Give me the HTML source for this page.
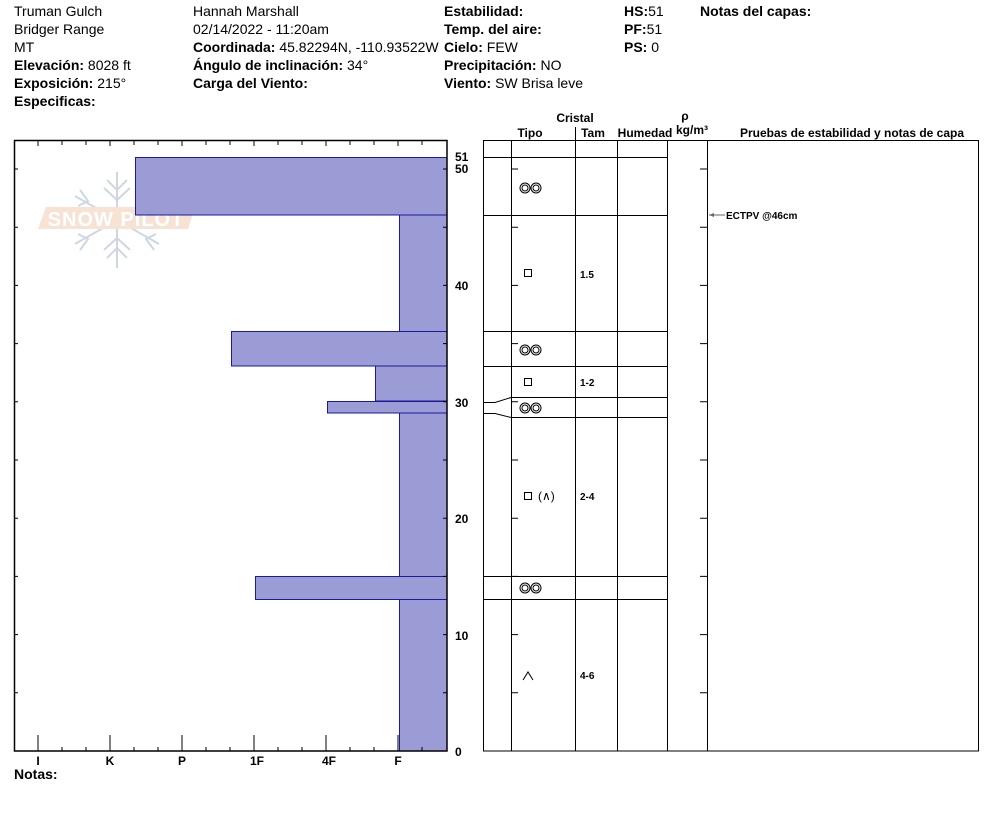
<!DOCTYPE html>
<html><head><meta charset="utf-8"><style>
body{margin:0;background:#fff;}
svg{display:block;font-family:"Liberation Sans",Arial,sans-serif;}
.b{font-weight:bold;}
</style></head><body>
<svg width="994" height="840" viewBox="0 0 994 840" xmlns="http://www.w3.org/2000/svg">
<g font-size="14" fill="#000">
<text x="14" y="16">Truman Gulch</text>
<text x="14" y="34">Bridger Range</text>
<text x="14" y="52">MT</text>
<text x="14" y="70"><tspan class="b">Elevación:</tspan> 8028 ft</text>
<text x="14" y="88"><tspan class="b">Exposición:</tspan> 215°</text>
<text x="14" y="106" class="b">Especificas:</text>
<text x="193" y="16">Hannah Marshall</text>
<text x="193" y="34">02/14/2022 - 11:20am</text>
<text x="193" y="52"><tspan class="b">Coordinada:</tspan> 45.82294N, -110.93522W</text>
<text x="193" y="70"><tspan class="b">Ángulo de inclinación:</tspan> 34°</text>
<text x="193" y="88" class="b">Carga del Viento:</text>
<text x="444" y="16" class="b">Estabilidad:</text>
<text x="444" y="34" class="b">Temp. del aire:</text>
<text x="444" y="52"><tspan class="b">Cielo:</tspan> FEW</text>
<text x="444" y="70"><tspan class="b">Precipitación:</tspan> NO</text>
<text x="444" y="88"><tspan class="b">Viento:</tspan>  SW Brisa leve</text>
<text x="624" y="16"><tspan class="b">HS:</tspan>51</text>
<text x="624" y="34"><tspan class="b">PF:</tspan>51</text>
<text x="624" y="52"><tspan class="b">PS:</tspan> 0</text>
<text x="700" y="16" class="b">Notas del capas:</text>
<text x="14" y="779" class="b">Notas:</text>
</g>
<!-- logo -->
<g opacity="0.5">
<g stroke="#9fb0c4" stroke-width="2" fill="none">
<line x1="117" y1="172" x2="117" y2="268"/>
<line x1="75" y1="196" x2="159" y2="244"/>
<line x1="75" y1="244" x2="159" y2="196"/>
<path d="M107 180 L117 190 L127 180 M107 258 L117 248 L127 258 M104 188 L117 200 L130 188 M104 250 L117 238 L130 250"/>
<path d="M80 190 L88 201 L78 206 M154 190 L146 201 L156 206 M80 250 L88 239 L78 234 M154 250 L146 239 L156 234"/>
</g>
<polygon points="46,207 195,207 188,229 38,229" fill="#f0c8a8"/>
<text x="116" y="226" font-size="20" fill="#fff" text-anchor="middle" font-weight="bold" letter-spacing="1">SNOW PILOT</text>
</g>
<!-- bars -->
<g fill="#9b9bd6" stroke="#1a1a9a" stroke-width="1">
<rect x="399.5" y="215" width="47.5" height="536"/>
<rect x="135.5" y="157.5" width="311.5" height="57.5"/>
<rect x="231.5" y="331.5" width="215.5" height="34.5"/>
<rect x="375.5" y="366" width="71.5" height="35"/>
<rect x="327.5" y="401.5" width="119.5" height="11.5"/>
<rect x="255.5" y="576.5" width="191.5" height="23"/>
</g>
<!-- left axes -->
<g stroke="#000" stroke-width="1.5" fill="none">
<rect x="14.5" y="140.5" width="432.5" height="610.5"/>
</g>
<g stroke="#000" stroke-width="1">
<path d="M38 751v-16M110 751v-16M182 751v-16M254 751v-16M326 751v-16M398 751v-16
M62 751v-4M86 751v-4M134 751v-4M158 751v-4M206 751v-4M230 751v-4M278 751v-4M302 751v-4M350 751v-4M374 751v-4M422 751v-4
M38 140v6M62 140v5M86 140v5M110 140v6M134 140v5M158 140v5M182 140v6M206 140v5M230 140v5M254 140v6M278 140v5M302 140v5M326 140v6M350 140v5M374 140v5M398 140v6M422 140v5
M14 692.8h4M14 634.6h4M14 576.4h4M14 518.2h4M14 460h4M14 401.8h4M14 343.6h4M14 285.4h4M14 227.2h4M14 169h4
M447 692.8h-4M447 634.6h-4M447 576.4h-4M447 518.2h-4M447 460h-4M447 401.8h-4M447 343.6h-4M447 285.4h-4M447 227.2h-4M447 169h-4"/>
</g>
<g font-size="12" font-weight="bold" text-anchor="middle">
<text x="38" y="765">I</text><text x="110" y="765">K</text><text x="182" y="765">P</text>
<text x="257" y="765">1F</text><text x="329" y="765">4F</text><text x="398" y="765">F</text>
</g>
<g font-size="12" font-weight="bold">
<text x="455" y="161">51</text><text x="455" y="173">50</text>
<text x="455" y="290">40</text><text x="455" y="407">30</text>
<text x="455" y="523">20</text><text x="455" y="640">10</text>
<text x="455" y="756">0</text>
</g>
<!-- right table -->
<g font-size="12" font-weight="bold" text-anchor="middle">
<text x="575" y="122">Cristal</text>
<text x="530" y="137">Tipo</text>
<text x="593" y="137">Tam</text>
<text x="645" y="137">Humedad</text>
<text x="685" y="120">ρ</text>
<text x="692" y="134">kg/m³</text>
<text x="852" y="137">Pruebas de estabilidad y notas de capa</text>
</g>
<g stroke="#000" stroke-width="1" fill="none">
<rect x="483.5" y="140.5" width="495" height="610.5"/>
<path d="M511.5 140v611M575.5 140v611M617.5 140v611M667.5 140v611M707.5 140v611M575.5 127v13"/>
<path d="M483 157.5h184M483 215.5h184M483 331.5h184M483 366.5h184M511 397.5h156M511 417.5h156M483 576.5h184M483 599.5h184"/>
<path d="M483 402.5h12L511 397.5M483 413.5h12L511 417.5"/>
<path d="M511 692.8h7M511 634.6h7M511 576.4h7M511 518.2h7M511 460h7M511 401.8h7M511 343.6h7M511 285.4h7M511 227.2h7M511 169h7
M707 692.8h-7M707 634.6h-7M707 576.4h-7M707 518.2h-7M707 460h-7M707 401.8h-7M707 343.6h-7M707 285.4h-7M707 227.2h-7M707 169h-7"/>
<path d="M709 215h16" stroke="#666"/>
</g>
<path d="M709 215l5 -2v4z" fill="#666"/>
<text x="726" y="219" font-size="10" font-weight="bold">ECTPV @46cm</text>
<g fill="none" stroke="#000" stroke-width="1">
<g id="rg"><circle cx="525" cy="188" r="5"/><circle cx="525" cy="188" r="3"/><circle cx="536" cy="188" r="5"/><circle cx="536" cy="188" r="3"/></g>
<use href="#rg" y="162"/><use href="#rg" y="220"/><use href="#rg" y="400"/>
<rect x="524.5" y="269.5" width="7" height="7"/>
<rect x="524.5" y="378.5" width="7" height="7"/>
<rect x="524.5" y="492.5" width="7" height="7"/>
<path d="M523 680L528 672L533 680"/>
</g>
<text x="538" y="500" font-size="12">(∧)</text>
<g font-size="10" font-weight="bold">
<text x="580" y="278">1.5</text><text x="580" y="386">1-2</text>
<text x="580" y="500">2-4</text><text x="580" y="679">4-6</text>
</g>
</svg>
</body></html>
